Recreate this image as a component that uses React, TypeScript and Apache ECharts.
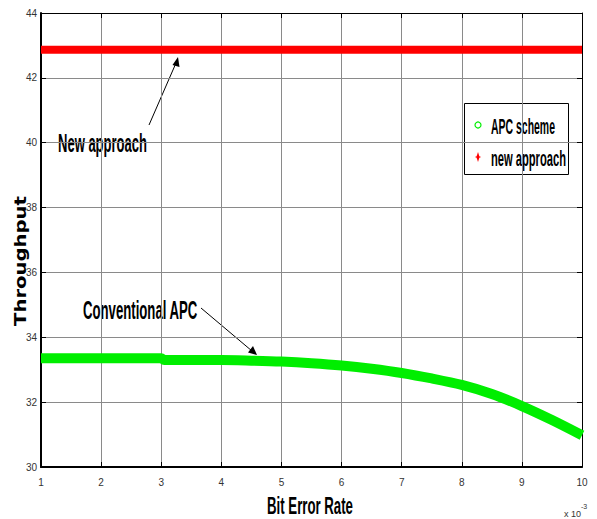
import React, { useEffect, useRef } from "react";
import * as echarts from "echarts";

// Bit error rate (x 10^-3) sample points
const apcX = [1, 1.5, 2, 2.5, 3, 3.05, 3.5, 4, 4.5, 5, 5.5, 6, 6.5, 7, 7.5, 8, 8.5, 9, 9.5, 10];
const apcY = [33.35, 33.35, 33.35, 33.35, 33.35, 33.3, 33.3, 33.3, 33.28, 33.25, 33.2, 33.13, 33.03, 32.9, 32.73, 32.53, 32.25, 31.88, 31.45, 30.98];
const newX = [1, 10];
const newY = [42.87, 42.87];
const seriesNames = ["APC scheme", "new approach"];
const xTitle = "Bit Error Rate";
const yTitle = "Throughput";

const SANS = "'Liberation Sans', Arial, sans-serif";

function fitScale(text: string, font: string, width: number): number {
  const c = document.createElement("canvas").getContext("2d");
  if (!c) return 1;
  c.font = font;
  const w = c.measureText(text).width;
  return w > 0 ? width / w : 1;
}

export default function App() {
  const ref = useRef<HTMLDivElement>(null);
  useEffect(() => {
    if (!ref.current) return;
    const chart = echarts.init(ref.current, undefined, { renderer: "svg" });
    const tickLabel = { fontFamily: SANS, fontSize: 10, color: "#333" };

    const fNew = `bold 25px ${SANS}`;
    const fConv = `bold 25px ${SANS}`;
    const fX = `bold 23px ${SANS}`;
    const fY = `bold 15px 'DejaVu Sans', sans-serif`;
    const fLeg = `bold 22px ${SANS}`;

    const lbl = (text: string, x: number, y: number, font: string, width: number, align = "left") => ({
      type: "text", x, y, scaleX: fitScale(text, font, width),
      style: { text, font, fill: "#000", align, verticalAlign: "middle" },
    });

    chart.setOption({
      animation: false,
      backgroundColor: "#fff",
      grid: { left: 41, right: 15, top: 13, bottom: 52 },
      xAxis: [
        {
          type: "value", min: 1, max: 10, interval: 1,
          axisLine: { lineStyle: { color: "#000", width: 2 } },
          axisTick: { inside: true, length: 5, lineStyle: { color: "#000" } },
          axisLabel: { ...tickLabel, margin: 10 },
          splitLine: { show: true, lineStyle: { color: "#8a8a8a", width: 1 } },
        },
        {
          type: "value", min: 1, max: 10, interval: 1, position: "top",
          axisLine: { show: true, lineStyle: { color: "#000", width: 1 } },
          axisTick: { show: true, inside: true, length: 5, lineStyle: { color: "#000" } },
          axisLabel: { show: false },
          splitLine: { show: false },
        },
      ],
      yAxis: [
        {
          type: "value", min: 30, max: 44, interval: 2,
          axisLine: { show: true, lineStyle: { color: "#000", width: 2 } },
          axisTick: { show: true, inside: true, length: 5, lineStyle: { color: "#000" } },
          axisLabel: { ...tickLabel, margin: 4 },
          splitLine: { show: true, lineStyle: { color: "#8a8a8a", width: 1 } },
        },
        {
          type: "value", min: 30, max: 44, interval: 2, position: "right",
          axisLine: { show: true, lineStyle: { color: "#000", width: 1 } },
          axisTick: { show: true, inside: true, length: 5, lineStyle: { color: "#000" } },
          axisLabel: { show: false },
          splitLine: { show: false },
        },
      ],
      series: [
        {
          name: seriesNames[0], type: "line", showSymbol: false, smooth: 0.3,
          data: apcX.map((x, i) => [x, apcY[i]]),
          lineStyle: { color: "#00ee00", width: 10 },
          itemStyle: { color: "#00ee00" },
        },
        {
          name: seriesNames[1], type: "line", showSymbol: false,
          data: newX.map((x, i) => [x, newY[i]]),
          lineStyle: { color: "#ff0000", width: 8 },
          itemStyle: { color: "#ff0000" },
        },
      ],
      graphic: [
        lbl("New approach", 58, 143, fNew, 89),
        { type: "line", shape: { x1: 149, y1: 125, x2: 176, y2: 63 }, style: { stroke: "#000", lineWidth: 1 } },
        { type: "polygon", shape: { points: [[178, 57], [172.5, 65], [179.5, 67]] }, style: { fill: "#000" } },
        lbl("Conventional APC", 83, 310, fConv, 115),
        { type: "line", shape: { x1: 201, y1: 308, x2: 252, y2: 351 }, style: { stroke: "#000", lineWidth: 1 } },
        { type: "polygon", shape: { points: [[257, 355], [248, 352.5], [253, 346]] }, style: { fill: "#000" } },
        lbl(xTitle, 310, 506, fX, 86, "center"),
        {
          type: "text", x: 21, y: 261, rotation: Math.PI / 2, scaleX: fitScale(yTitle, fY, 130),
          style: { text: yTitle, font: fY, fill: "#000", align: "center", verticalAlign: "middle" },
        },
        {
          type: "text", x: 564, y: 503,
          style: {
            text: "{a|x 10}{b|-3}",
            rich: {
              a: { font: `9px ${SANS}`, fill: "#333", verticalAlign: "bottom", padding: [6, 0, 0, 0] },
              b: { font: `7px ${SANS}`, fill: "#333", verticalAlign: "top", padding: [0, 0, 6, 0] },
            },
          },
        },
        // legend box
        { type: "rect", shape: { x: 464.5, y: 103.5, width: 104, height: 71 }, style: { fill: "#fff", stroke: "#000", lineWidth: 1 } },
        { type: "circle", shape: { cx: 478, cy: 125, r: 3 }, style: { fill: "none", stroke: "#00ee00", lineWidth: 1.2 } },
        { type: "polygon", shape: { points: [[478, 152], [479.6, 157], [478, 162], [476.4, 157]] }, style: { fill: "#ff0000" } },
        { type: "line", shape: { x1: 475.5, y1: 157, x2: 480.5, y2: 157 }, style: { stroke: "#ff0000", lineWidth: 1 } },
        lbl(seriesNames[0], 491, 126, fLeg, 64),
        lbl(seriesNames[1], 491, 158, fLeg, 75),
      ],
    });
    return () => chart.dispose();
  }, []);
  return <div ref={ref} style={{ width: 597, height: 519, position: "absolute", left: 0, top: 0 }} />;
}
